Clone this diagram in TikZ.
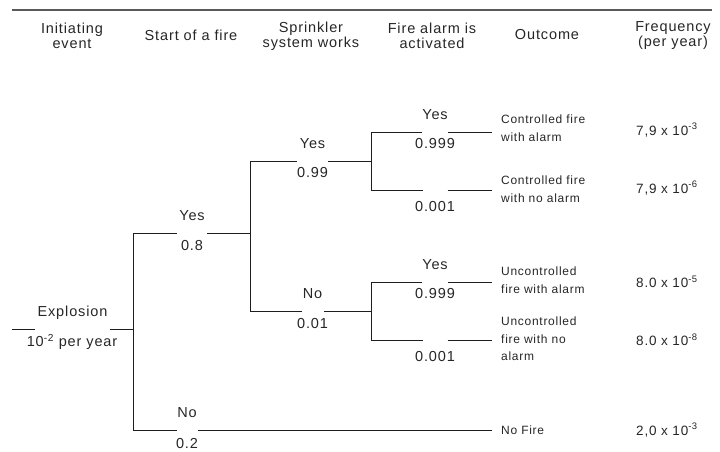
\documentclass[tikz,border=0pt]{standalone}
\usepackage{fontspec}
\setmainfont{Liberation Sans}[LetterSpace=6]
\definecolor{ink}{HTML}{1E1E1E}
\definecolor{txt}{HTML}{262626}
\definecolor{rulec}{HTML}{5A5A5A}
\newcommand\labfont{\fontsize{14.5}{15}\selectfont}
\newcommand\outfont{\fontsize{12}{17.5}\selectfont}
\newcommand\freqfont{\fontsize{13.5}{16}\selectfont}
\begin{document}
\begin{tikzpicture}[x=1pt,y=-1pt,
  wire/.style={draw=ink, line width=0.8pt},
  toprule/.style={draw=rulec, line width=1.1pt},
  lbl/.style={font=\labfont, text=txt, inner sep=0pt},
  hdr/.style={lbl, align=center},
  outc/.style={font=\outfont, text=txt, inner sep=0pt, anchor=west, align=left},
  freq/.style={font=\freqfont, text=txt, inner sep=0pt, anchor=west},
  lblgap/.style={inner sep=0pt, outer sep=0pt, minimum width=#1, minimum height=0pt}]
\useasboundingbox (0,0) rectangle (720,452);

% column headings
\coordinate (r0) at (12,10);
\coordinate (r1) at (712,10);
\draw[toprule] (r0) -- (r1);
\node[hdr] (hInit)  at (72,36)  {Initiating\\event};
\node[hdr] (hStart) at (191,35) {Start of a fire};
\node[hdr] (hSpr)   at (311,36) {Sprinkler\\system works};
\node[hdr] (hAlarm) at (432,36) {Fire alarm is\\activated};
\node[hdr] (hOut)   at (547,35) {Outcome};
\node[hdr] (hFreq)  at (673,36) {Frequency\\(per year)};

% initiating event
\coordinate (e0) at (12,329);
\node[lblgap=75] (gE) at (72.5,329) {};
\node[lbl] (tE) at (72.5,313) {Explosion};
\node[lbl] (pE) at (72,342) {10\textsuperscript{-2} per year};
\coordinate (j1)  at (133,329);
\coordinate (j1a) at (133,233);
\coordinate (j1b) at (133,430);
\draw[wire] (e0) -- (gE.west) (gE.east) -- (j1) (j1a) -- (j1b);

% start of a fire: yes
\node[lblgap=30] (gF1) at (192,233) {};
\node[lbl] (tF1) at (192,216) {Yes};
\node[lbl] (pF1) at (192,246) {0.8};
\coordinate (j2)  at (250,233);
\coordinate (j2a) at (250,161);
\coordinate (j2b) at (250,311);
\draw[wire] (j1a) -- (gF1.west) (gF1.east) -- (j2) (j2a) -- (j2b);

% start of a fire: no
\node[lblgap=21] (gF2) at (187,430) {};
\node[lbl] (tF2) at (187,413) {No};
\node[lbl] (pF2) at (187,444) {0.2};
\coordinate (o5) at (492,430);
\draw[wire] (j1b) -- (gF2.west) (gF2.east) -- (o5);

% sprinkler system: yes
\node[lblgap=31] (gS1) at (312.5,161) {};
\node[lbl] (tS1) at (312.5,144) {Yes};
\node[lbl] (pS1) at (312.5,173) {0.99};
\coordinate (j3)  at (371,161);
\coordinate (j3a) at (371,132);
\coordinate (j3b) at (371,190);
\draw[wire] (j2a) -- (gS1.west) (gS1.east) -- (j3) (j3a) -- (j3b);

% sprinkler system: no
\node[lblgap=22] (gS2) at (312.5,311) {};
\node[lbl] (tS2) at (312.5,294) {No};
\node[lbl] (pS2) at (312.5,324) {0.01};
\coordinate (j4)  at (371,311);
\coordinate (j4a) at (371,282);
\coordinate (j4b) at (371,340);
\draw[wire] (j2b) -- (gS2.west) (gS2.east) -- (j4) (j4a) -- (j4b);

% fire alarm after working sprinklers
\node[lblgap=26] (gA1) at (435,132) {};
\node[lbl] (tA1) at (435,115) {Yes};
\node[lbl] (pA1) at (435,144) {0.999};
\coordinate (o1) at (492,132);
\draw[wire] (j3a) -- (gA1.west) (gA1.east) -- (o1);
\node[lblgap=25] (gA2) at (435,190) {};
\node[lbl] (pA2) at (435,207) {0.001};
\coordinate (o2) at (492,190);
\draw[wire] (j3b) -- (gA2.west) (gA2.east) -- (o2);

% fire alarm after failed sprinklers
\node[lblgap=26] (gA3) at (435,282) {};
\node[lbl] (tA3) at (435,265) {Yes};
\node[lbl] (pA3) at (435,294) {0.999};
\coordinate (o3) at (492,282);
\draw[wire] (j4a) -- (gA3.west) (gA3.east) -- (o3);
\node[lblgap=25] (gA4) at (435,340) {};
\node[lbl] (pA4) at (435,357) {0.001};
\coordinate (o4) at (492,340);
\draw[wire] (j4b) -- (gA4.west) (gA4.east) -- (o4);

% outcomes
\node[outc] (out1) at (501,128) {Controlled fire\\with alarm};
\node[outc] (out2) at (501,189) {Controlled fire\\with no alarm};
\node[outc] (out3) at (501,280) {Uncontrolled\\fire with alarm};
\node[outc] (out4) at (501,339) {Uncontrolled\\fire with no\\alarm};
\node[outc] (out5) at (501,430) {No Fire};

% frequencies
\node[freq] (f1) at (636,130) {7,9 x 10\textsuperscript{-3}};
\node[freq] (f2) at (636,188) {7,9 x 10\textsuperscript{-6}};
\node[freq] (f3) at (636,282) {8.0 x 10\textsuperscript{-5}};
\node[freq] (f4) at (636,340) {8.0 x 10\textsuperscript{-8}};
\node[freq] (f5) at (636,430) {2,0 x 10\textsuperscript{-3}};
\end{tikzpicture}
\end{document}
